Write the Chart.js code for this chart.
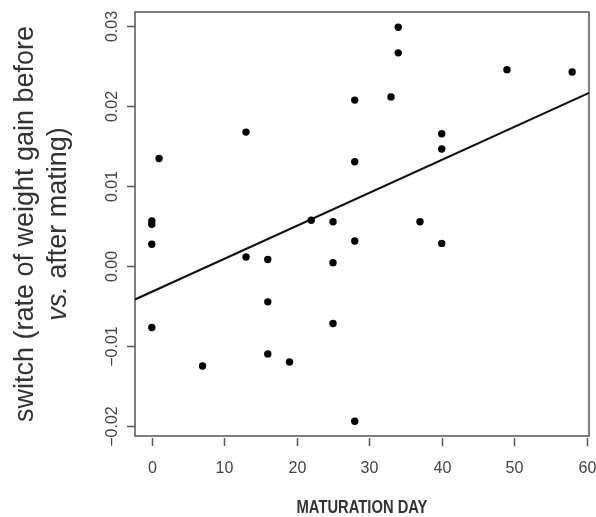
<!DOCTYPE html>
<html>
<head>
<meta charset="utf-8">
<script src="https://cdn.jsdelivr.net/npm/chart.js@4"></script>
<style>
  html, body { margin: 0; padding: 0; background: #fff; }
  #wrap { width: 596px; height: 517px; }
</style>
</head>
<body>
<div id="wrap"><canvas id="switchChart" width="596" height="517"></canvas></div>
<script>
    // Maturation day vs. switch value
    const maturationDay = [0, 0, 0, 0, 1, 7, 13, 13, 16, 16, 16, 19, 22, 25, 25, 25, 28, 28, 28, 28, 33, 34, 34, 37, 40, 40, 40, 49, 58];
    const switchValue = [0.0056, 0.0052, 0.0027, -0.0077, 0.0134, -0.0125, 0.0167, 0.0011, 0.0008, -0.0045, -0.0110,
      -0.0120, 0.0057, 0.0055, 0.0004, -0.0072, 0.0207, 0.0130, 0.0031, -0.0194, 0.0211, 0.0298, 0.0266, 0.0055,
      0.0165, 0.0146, 0.0028, 0.0245, 0.0242];

    // Regression line ends (at the plot edges)
    const fitDay = [-2.32, 60.32];
    const fitValue = [-0.0042, 0.0216];

    // Axis ticks
    const xTicks = [0, 10, 20, 30, 40, 50, 60];
    const yTicks = [-0.02, -0.01, 0.00, 0.01, 0.02, 0.03];
    const yTickLabels = ['\u22120.02', '\u22120.01', '0.00', '0.01', '0.02', '0.03'];

    const axisGrey = '#555';

    // R style box, ticks and titles
    const rAxes = {
      id: 'rAxes',
      beforeDatasetsDraw(chart) {
        const { ctx, chartArea: a } = chart;
        ctx.save();
        ctx.strokeStyle = axisGrey;
        ctx.lineWidth = 1.5;
        ctx.strokeRect(a.left, a.top, a.right - a.left, a.bottom - a.top);
        ctx.restore();
      },
      afterDraw(chart) {
        const { ctx, chartArea: a, scales } = chart;
        ctx.save();
        ctx.strokeStyle = axisGrey;
        ctx.fillStyle = '#444';
        ctx.lineWidth = 1.5;
        ctx.font = '16px "Liberation Sans", Arial, sans-serif';

        // x axis
        ctx.textAlign = 'center';
        ctx.textBaseline = 'alphabetic';
        xTicks.forEach(v => {
          const px = Math.round(scales.x.getPixelForValue(v)) + 0.5;
          ctx.beginPath();
          ctx.moveTo(px, a.bottom + 2);
          ctx.lineTo(px, a.bottom + 10);
          ctx.stroke();
          ctx.fillText(String(v), px, 473);
        });

        // y axis
        yTicks.forEach((v, i) => {
          const py = Math.round(scales.y.getPixelForValue(v)) + 0.5;
          ctx.beginPath();
          ctx.moveTo(a.left - 8, py);
          ctx.lineTo(a.left, py);
          ctx.stroke();
          ctx.save();
          ctx.translate(117, py);
          ctx.rotate(-Math.PI / 2);
          ctx.fillText(yTickLabels[i], 0, 0);
          ctx.restore();
        });

        // x title (narrow bold look)
        ctx.fillStyle = '#333';
        ctx.font = 'bold 18px "Liberation Sans", Arial, sans-serif';
        ctx.save();
        ctx.translate((a.left + a.right) / 2, 513);
        ctx.scale(0.82, 1);
        ctx.fillText('MATURATION DAY', 0, 0);
        ctx.restore();

        // y title, two lines, "vs." in italics
        const cy = (a.top + a.bottom) / 2;
        const plain = '27px "Liberation Sans", Arial, sans-serif';
        const ital = 'italic 27px "Liberation Sans", Arial, sans-serif';
        ctx.save();
        ctx.translate(33, cy);
        ctx.rotate(-Math.PI / 2);
        ctx.font = plain;
        ctx.textAlign = 'center';
        ctx.fillText('switch (rate of weight gain before', 0, 0);
        ctx.textAlign = 'left';
        ctx.font = ital;
        const w1 = ctx.measureText('vs.').width;
        ctx.font = plain;
        const w2 = ctx.measureText(' after mating)').width;
        const x0 = -(w1 + w2) / 2;
        ctx.font = ital;
        ctx.fillText('vs.', x0, 33);
        ctx.font = plain;
        ctx.fillText(' after mating)', x0 + w1, 33);
        ctx.restore();

        ctx.restore();
      }
    };

    const ctx1 = document.getElementById('switchChart').getContext('2d');
    new Chart(ctx1, {
      type: 'scatter',
      data: {
        datasets: [{
          label: 'switch',
          data: maturationDay.map((d, i) => ({ x: d, y: switchValue[i] })),
          backgroundColor: '#000',
          borderColor: '#000',
          pointRadius: 3.7,
          borderWidth: 0
        }, {
          type: 'line',
          label: 'fit',
          data: fitDay.map((d, i) => ({ x: d, y: fitValue[i] })),
          borderColor: '#111',
          borderWidth: 2,
          pointRadius: 0,
          fill: false
        }]
      },
      options: {
        responsive: false,
        animation: false,
        layout: { padding: { top: 12, right: 7, left: 0, bottom: 0 } },
        plugins: { legend: { display: false }, tooltip: { enabled: false } },
        scales: {
          x: {
            type: 'linear',
            min: -2.32,
            max: 60.32,
            grid: { display: false },
            border: { display: false },
            ticks: { display: false },
            afterFit: s => { s.height = 81; }
          },
          y: {
            type: 'linear',
            min: -0.02125,
            max: 0.0317,
            grid: { display: false },
            border: { display: false },
            ticks: { display: false },
            afterFit: s => { s.width = 135; }
          }
        }
      },
      plugins: [rAxes]
    });
</script>
</body>
</html>
